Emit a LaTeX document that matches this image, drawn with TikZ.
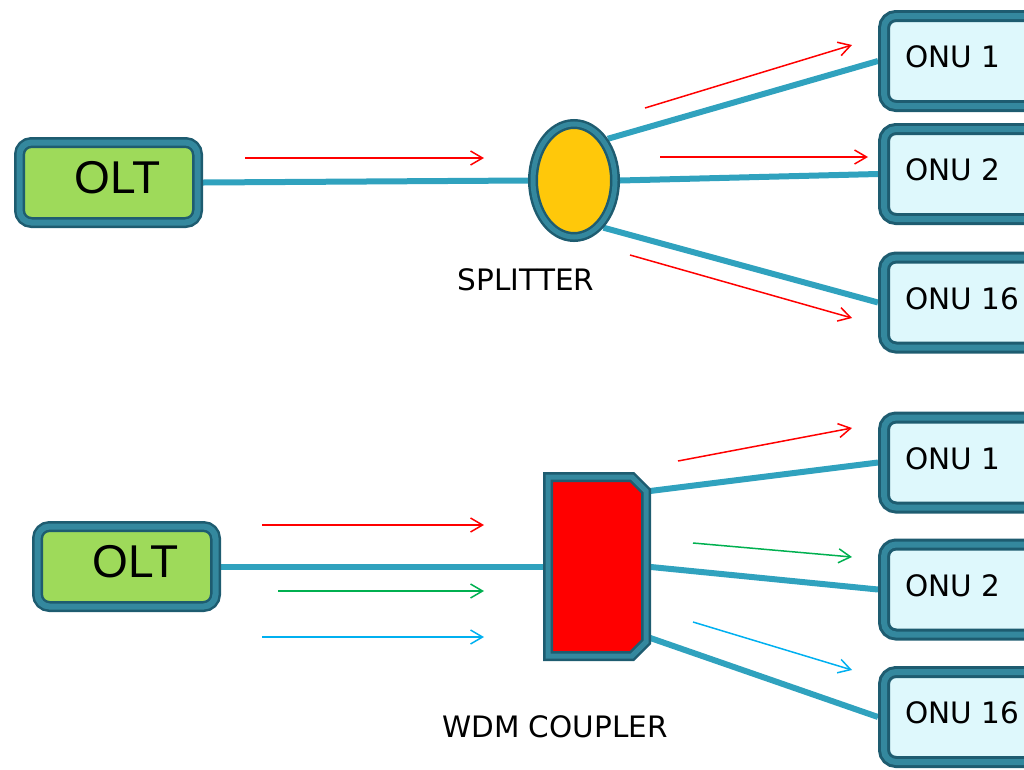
\documentclass[tikz,border=0pt]{standalone}
\usepackage{fontspec}
\setmainfont{DejaVu Sans}
\newfontfamily\oltfont{Liberation Sans}
\usetikzlibrary{arrows.meta}
\usetikzlibrary{positioning}
\usetikzlibrary{shapes.geometric}
\usetikzlibrary{backgrounds}
\definecolor{rim}{RGB}{30,92,112}
\definecolor{rimlight}{RGB}{52,136,158}
\definecolor{fibreblue}{RGB}{48,162,190}
\definecolor{oltgreen}{RGB}{158,218,90}
\definecolor{onucyan}{RGB}{222,248,252}
\definecolor{splyellow}{RGB}{255,200,10}
\definecolor{siggreen}{RGB}{0,176,80}
\definecolor{sigcyan}{RGB}{0,176,240}

\begin{document}
\begin{tikzpicture}[x=1pt, y=-1pt,
oltnode/.style={rectangle, rounded corners=12pt, draw=rim, double=rimlight, line width=2.5pt, double distance=6pt, outer sep=5.5pt, fill=oltgreen, minimum width=178pt, minimum height=80pt, inner sep=0pt, text height=33pt, text depth=12pt, font=\oltfont\fontsize{46}{50}\selectfont},
onunode/.style={rectangle, rounded corners=12pt, draw=rim, double=rimlight, line width=3pt, double distance=6pt, outer sep=6pt, fill=onucyan, minimum height=90pt, text width=140pt, align=left, inner xsep=21pt, inner ysep=0pt, text height=21.5pt, text depth=8pt, anchor=west, font=\fontsize{29.5}{34}\selectfont},
fibre/.style={draw=fibreblue, line width=6pt},
sig/.style={line width=1.5pt, -{Straight Barb[length=12pt,width=14pt]}},
tag/.style={font=\fontsize{29.5}{34}\selectfont},
]
\useasboundingbox (0,0) rectangle (1024,769);

% upper network: power splitter
\node[oltnode](olta) at (108.5,182.5){\hspace{19pt}OLT};
\node[ellipse, draw=rim, double=rimlight, line width=2.5pt, double distance=5pt, outer sep=5pt, fill=splyellow, minimum width=82pt, minimum height=113pt, inner sep=0pt, label={[tag, xshift=-48pt, label distance=23pt]below:SPLITTER}](spl) at (574,180.5){};
\node[onunode](onua) at (878,61){ONU 1};
\node[onunode](onub) at (878,174){ONU 2};
\node[onunode](onuc) at (878,302.5){ONU 16};

% lower network: wdm coupler
\node[oltnode](oltb) at (126.5,566.5){\hspace{19pt}OLT};
\node[rectangle, minimum width=98pt, minimum height=179pt, inner sep=0pt, outer sep=0pt, label={[tag, xshift=-42pt, label distance=56pt]below:WDM COUPLER}](wdm) at (597,566.5){};
\draw[draw=rim, double=rimlight, line width=2.5pt, double distance=5pt, fill=red, line join=miter]
  (wdm.north west) -- ([xshift=-14pt]wdm.north east) -- ([yshift=-14pt]wdm.north east)
  -- ([yshift=14pt]wdm.south east) -- ([xshift=-14pt]wdm.south east) -- (wdm.south west) -- cycle;
\node[onunode](onud) at (878,462.5){ONU 1};
\node[onunode](onue) at (878,589.5){ONU 2};
\node[onunode](onuf) at (878,717){ONU 16};

\begin{scope}[on background layer]
\draw[fibre] (olta.east) -- (spl.west);
\draw[fibre] (spl.51) -- (onua.west);
\draw[fibre] (spl.east) -- (onub.west);
\draw[fibre] (spl.-58) -- (onuc.west);
\draw[fibre] (oltb.east) -- (wdm.west);
\draw[fibre] ([yshift=75pt]wdm.east) -- (onud.west);
\draw[fibre] (wdm.east) -- (onue.west);
\draw[fibre] ([yshift=-70pt]wdm.east) -- (onuf.west);
\end{scope}

% signal directions
\draw[sig, red] (245,158) -- (484,158);
\draw[sig, red] (645,108) -- (852,45);
\draw[sig, red] (660,157) -- (868,157);
\draw[sig, red] (630,255) -- (852,318);
\draw[sig, red] (262,525) -- (484,525);
\draw[sig, siggreen] (278,591) -- (484,591);
\draw[sig, sigcyan] (262,637) -- (484,637);
\draw[sig, red] (678,461) -- (852,428);
\draw[sig, siggreen] (693,543) -- (852,557);
\draw[sig, sigcyan] (693,622) -- (852,670);
\end{tikzpicture}
\end{document}
